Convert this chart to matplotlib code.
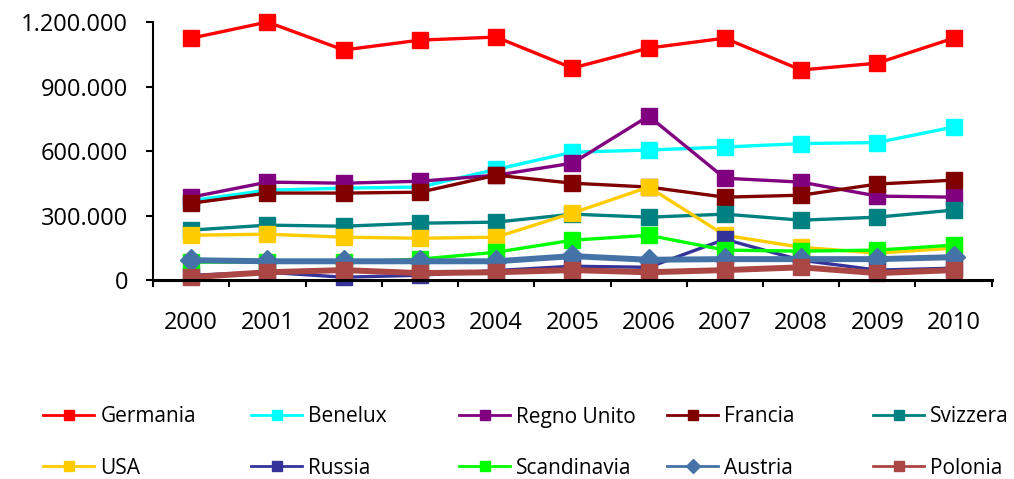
import matplotlib
matplotlib.use("Agg")
import matplotlib.pyplot as plt
from matplotlib.lines import Line2D
import numpy as np

plt.rcParams['font.family'] = ['Open Sans', 'DejaVu Sans']

# dati
anni = ["2000", "2001", "2002", "2003", "2004", "2005", "2006", "2007", "2008", "2009", "2010"]
paesi = ["Germania", "Benelux", "Regno Unito", "Francia", "Svizzera",
         "USA", "Russia", "Scandinavia", "Austria", "Polonia"]

germania = [1125000, 1200000, 1070000, 1116000, 1130000, 986000, 1079000, 1125000, 977000, 1009000, 1125000]
benelux = [370000, 418000, 428000, 433000, 515000, 595000, 605000, 619000, 635000, 640000, 712000]
regno_unito = [386000, 456000, 451000, 460000, 488000, 544000, 763000, 474000, 456000, 391000, 386000]
francia = [358000, 405000, 405000, 409000, 488000, 451000, 433000, 386000, 395000, 447000, 465000]
svizzera = [233000, 256000, 251000, 265000, 270000, 307000, 293000, 307000, 279000, 293000, 326000]
usa = [209000, 214000, 200000, 195000, 200000, 312000, 433000, 209000, 153000, 126000, 149000]
russia = [23000, 37000, 14000, 23000, 45000, 65000, 60000, 190000, 93000, 47000, 56000]
scandinavia = [84000, 84000, 84000, 98000, 130000, 186000, 209000, 140000, 135000, 140000, 163000]
austria = [93000, 88000, 88000, 88000, 88000, 112000, 95000, 98000, 98000, 98000, 107000]
polonia = [14000, 37000, 47000, 33000, 37000, 47000, 37000, 47000, 60000, 33000, 47000]

serie = [germania, benelux, regno_unito, francia, svizzera, usa, russia, scandinavia, austria, polonia]
colori = ["#FF0000", "#00FFFF", "#800080", "#800000", "#008080",
          "#FFCC00", "#333399", "#00FF00", "#4572A7", "#AA4643"]
marker = ["s", "s", "s", "s", "s", "s", "s", "s", "D", "s"]

fig = plt.figure(figsize=(10.14, 4.79), dpi=100)
ax = fig.add_axes([0.151, 0.415, 0.827, 0.539])

x = np.arange(len(anni))
for nome, y, c, m in zip(paesi, serie, colori, marker):
    lw = 4.3 if nome in ("Austria", "Polonia") else 2.4
    ms = 11.5 if m == "D" else 11
    if nome == "Polonia":
        ms = 12
    ax.plot(x, y, color=c, marker=m, markersize=ms, linewidth=lw, clip_on=False)

ax.set_xlim(-0.5, 10.5)
ax.set_ylim(0, 1200000)
ax.set_yticks([0, 300000, 600000, 900000, 1200000])
ax.set_yticklabels(["0", "300.000", "600.000", "900.000", "1.200.000"])
ax.set_xticks(x)
ax.set_xticklabels(anni)
ax.set_xticks(np.arange(-0.5, 11, 1), minor=True)
ax.tick_params(axis="x", which="major", length=0, pad=22, labelsize=17)
ax.tick_params(axis="x", which="minor", length=5, width=1.5, direction="out")
ax.tick_params(axis="y", length=5, width=1.5, direction="out", labelsize=17, pad=13)
ax.spines["top"].set_visible(False)
ax.spines["right"].set_visible(False)
ax.spines["left"].set_linewidth(1.5)
ax.spines["bottom"].set_linewidth(2.2)

# legenda: 2 righe x 5 colonne, colonne di larghezza uguale
col_x = [43, 251, 459, 667, 873]
row_y = [417, 468]
for i, (nome, c, m) in enumerate(zip(paesi, colori, marker)):
    h = Line2D([], [], color=c, marker=m, linewidth=2,
               markersize=7 if m == "D" else 6.5)
    px = col_x[i % 5]
    py = row_y[i // 5]
    fig.legend([h], [nome], loc="center left",
               bbox_to_anchor=(px / 1014, 1 - py / 479),
               frameon=False, fontsize=15, handlelength=2.45,
               handletextpad=0.3, borderpad=0, borderaxespad=0)

fig.savefig("out.png", dpi=100)
